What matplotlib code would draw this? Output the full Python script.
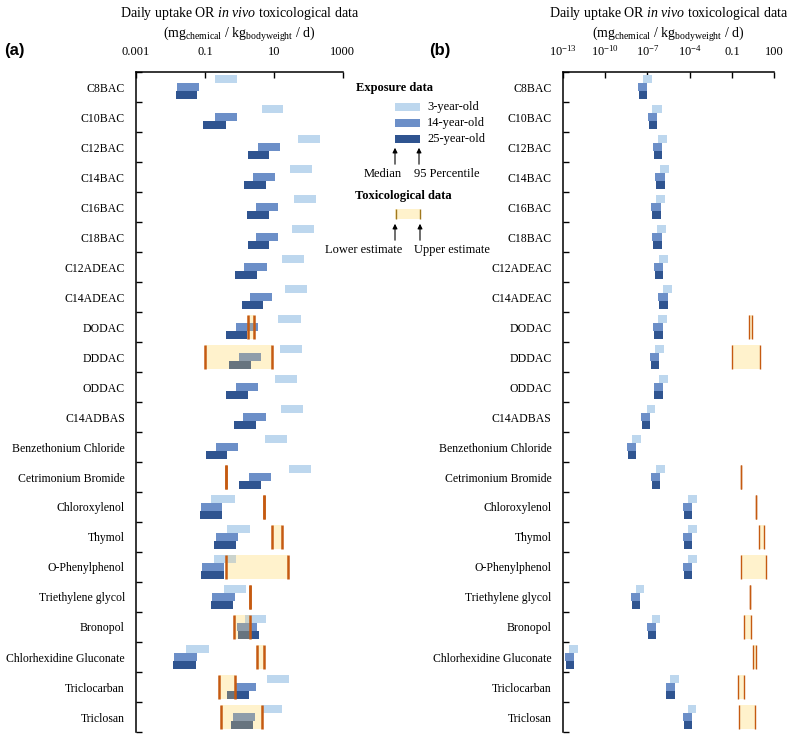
import numpy as np
import matplotlib
matplotlib.use("Agg")
import matplotlib.pyplot as plt

plt.rcParams['font.family'] = ['Liberation Serif', 'DejaVu Serif']
plt.rcParams['mathtext.fontset'] = 'custom'
plt.rcParams['mathtext.rm'] = 'Liberation Serif'
plt.rcParams['mathtext.it'] = 'Liberation Serif:italic'

chemicals = ["C8BAC", "C10BAC", "C12BAC", "C14BAC", "C16BAC", "C18BAC", "C12ADEAC",
             "C14ADEAC", "DODAC", "DDDAC", "ODDAC", "C14ADBAS", "Benzethonium Chloride",
             "Cetrimonium Bromide", "Chloroxylenol", "Thymol", "O-Phenylphenol",
             "Triethylene glycol", "Bronopol", "Chlorhexidine Gluconate", "Triclocarban",
             "Triclosan"]

# panel (a): median and 95 percentile daily uptake
a_med_3 = [0.19, 4.5, 51, 30, 39, 34, 17.4, 21.4, 13.2, 15.1, 11, 16.2, 5.5, 27.5,
           0.155, 0.43, 0.178, 0.35, 1.45, 0.029, 6.3, 4.5]
a_p95_3 = [0.83, 18.6, 224, 132, 170, 151, 76, 93, 63, 66, 48, 71, 24.5, 123,
           0.74, 2.0, 0.78, 1.55, 5.9, 0.129, 27.5, 17.4]
a_med_14 = [0.0158, 0.19, 3.47, 2.45, 3.0, 3.0, 1.35, 2.0, 0.79, 0.95, 0.79, 1.26, 0.204,
            1.86, 0.079, 0.204, 0.085, 0.166, 0.83, 0.0129, 0.78, 0.65]
a_p95_14 = [0.069, 0.83, 15.1, 11, 13.2, 13.2, 6.3, 8.9, 3.47, 4.3, 3.47, 5.9, 0.89,
            8.3, 0.32, 0.89, 0.37, 0.74, 3.24, 0.060, 3.0, 2.8]
a_med_25 = [0.0148, 0.091, 1.76, 1.35, 1.66, 1.76, 0.74, 1.17, 0.40, 0.49, 0.40, 0.69,
            0.105, 0.95, 0.074, 0.178, 0.079, 0.155, 0.89, 0.012, 0.43, 0.56]
a_p95_25 = [0.060, 0.40, 7.2, 5.9, 7.2, 7.2, 3.24, 4.8, 1.66, 2.14, 1.78, 3.0, 0.43,
            4.3, 0.31, 0.78, 0.35, 0.65, 3.7, 0.054, 1.86, 2.45]

# panel (b)
b_med_3 = [4.7e-8, 2.2e-7, 5.8e-7, 8.3e-7, 4.4e-7, 5.1e-7, 6.8e-7, 1.3e-6, 6.0e-7, 3.3e-7,
           6.5e-7, 9.1e-8, 8.1e-9, 4.2e-7, 7.8e-5, 7.8e-5, 7.8e-5, 1.5e-8, 2.0e-7, 3.0e-13,
           4.1e-6, 7.4e-5]
b_p95_3 = [2.0e-7, 1.05e-6, 2.4e-6, 3.5e-6, 1.9e-6, 2.1e-6, 3.0e-6, 5.6e-6, 2.6e-6, 1.45e-6,
           2.8e-6, 3.5e-7, 3.4e-8, 1.7e-6, 3.2e-4, 3.2e-4, 3.2e-4, 6.2e-8, 8.3e-7, 1.2e-12,
           1.7e-5, 2.8e-4]
b_med_14 = [2.2e-8, 1.1e-7, 2.5e-7, 3.7e-7, 1.9e-7, 2.2e-7, 3.0e-7, 6.0e-7, 2.7e-7, 1.55e-7,
            2.8e-7, 3.5e-8, 3.8e-9, 1.9e-7, 3.5e-5, 3.5e-5, 3.5e-5, 6.9e-9, 1.0e-7, 1.45e-13,
            2.0e-6, 3.4e-5]
b_p95_14 = [9.1e-8, 4.7e-7, 1.15e-6, 1.7e-6, 8.9e-7, 1.05e-6, 1.35e-6, 2.8e-6, 1.23e-6,
            6.5e-7, 1.23e-6, 1.55e-7, 1.6e-8, 8.3e-7, 1.5e-4, 1.5e-4, 1.5e-4, 3.0e-8, 4.4e-7,
            6.3e-13, 8.7e-6, 1.5e-4]
b_med_25 = [2.45e-8, 1.26e-7, 2.8e-7, 4.2e-7, 2.1e-7, 2.5e-7, 3.3e-7, 6.8e-7, 3.0e-7, 1.7e-7,
            3.2e-7, 4.0e-8, 4.3e-9, 2.1e-7, 4.0e-5, 4.0e-5, 4.0e-5, 7.8e-9, 1.1e-7, 1.6e-13,
            2.2e-6, 3.8e-5]
b_p95_25 = [9.5e-8, 4.9e-7, 1.15e-6, 1.7e-6, 8.9e-7, 1.05e-6, 1.35e-6, 2.8e-6, 1.23e-6,
            7.1e-7, 1.23e-6, 1.55e-7, 1.66e-8, 8.3e-7, 1.55e-4, 1.55e-4, 1.55e-4, 3.0e-8,
            4.4e-7, 6.3e-13, 8.7e-6, 1.5e-4]

# toxicological data (lower / upper estimate), None = no data
tox_low = [None, None, None, None, None, None, None, None, 1.74, 0.10, None, None, None,
           0.42, 5.2, 8.7, 0.42, 2.0, 0.71, 3.2, 0.25, 0.30]
tox_up = [None, None, None, None, None, None, None, None, 2.75, 9.1, None, None, None,
          0.42, 5.2, 17.8, 25, 2.0, 2.1, 5.2, 0.76, 4.5]

colors = ['#BDD7EE', '#6C8FC8', '#2F5490']
overlap_colors = ['#CBD3CC', '#8F9DAA', '#67747F']
offsets = [-0.27, 0, 0.27]
bar_h = 0.27
tox_fill = '#FFF2CC'
tox_line = '#C55A11'

W, H = 787, 734
fig = plt.figure(figsize=(W / 100, H / 100), dpi=100)

def px_rect(x0, x1, y0, y1):
    return [x0 / W, 1 - y1 / H, (x1 - x0) / W, (y1 - y0) / H]

def draw_panel(ax, meds, p95s, xlim, ticks, ticklabels, line_w):
    y = np.arange(len(chemicals))
    # toxicological boxes
    for i in range(len(chemicals)):
        if tox_low[i] is None:
            continue
        ax.barh(i, tox_up[i] - tox_low[i], left=tox_low[i], height=0.8,
                color=tox_fill, lw=0, zorder=1)
    for k in range(3):
        med = np.array(meds[k])
        p95 = np.array(p95s[k])
        ax.barh(y + offsets[k], p95 - med, left=med, height=bar_h,
                color=colors[k], lw=0, zorder=2)
        # part of the bar covered by the toxicological box
        for i in range(len(chemicals)):
            if tox_low[i] is None:
                continue
            lo = max(med[i], tox_low[i])
            hi = min(p95[i], tox_up[i])
            if hi > lo:
                ax.barh(i + offsets[k], hi - lo, left=lo, height=bar_h,
                        color=overlap_colors[k], lw=0, zorder=3)
    for i in range(len(chemicals)):
        if tox_low[i] is None:
            continue
        ax.vlines([tox_low[i], tox_up[i]], i - 0.4, i + 0.4, color=tox_line,
                  lw=line_w, zorder=4)

    ax.set_xscale('log')
    ax.set_xlim(*xlim)
    ax.set_ylim(len(chemicals) - 0.5, -0.5)
    ax.set_xticks(ticks)
    ax.set_xticklabels(ticklabels)
    ax.xaxis.set_minor_locator(matplotlib.ticker.NullLocator())
    ax.xaxis.tick_top()
    ax.tick_params(axis='x', direction='in', length=4, width=1, pad=10, labelsize=9)
    ax.set_yticks(y)
    ax.set_yticklabels(chemicals)
    ax.set_yticks(np.arange(-0.5, len(chemicals)), minor=True)
    ax.tick_params(axis='y', which='major', length=0, pad=8, labelsize=8.5)
    ax.tick_params(axis='y', which='minor', direction='in', length=4, width=1)
    for s in ['right', 'bottom']:
        ax.spines[s].set_visible(False)
    for s in ['top', 'left']:
        ax.spines[s].set_linewidth(1.1)
    ax.set_facecolor('none')

ax_a = fig.add_axes(px_rect(136, 342.7, 72, 732))
draw_panel(ax_a, [a_med_3, a_med_14, a_med_25], [a_p95_3, a_p95_14, a_p95_25],
           (1e-3, 1e3), [1e-3, 1e-1, 1e1, 1e3], ["0.001", "0.1", "10", "1000"], 1.8)

ax_b = fig.add_axes(px_rect(562.7, 774.3, 72, 732))
draw_panel(ax_b, [b_med_3, b_med_14, b_med_25], [b_p95_3, b_p95_14, b_p95_25],
           (1e-13, 1e2), [1e-13, 1e-10, 1e-7, 1e-4, 1e-1, 1e2],
           ["$10^{-13}$", "$10^{-10}$", "$10^{-7}$", "$10^{-4}$", "0.1", "100"], 1.0)

title1 = "Daily uptake OR $\\mathit{in\\ vivo}$ toxicological data"
title2 = "(mg$_{\\mathrm{chemical}}$ / kg$_{\\mathrm{bodyweight}}$ / d)"
for cx in [(136 + 342.7) / 2, (562.7 + 774.3) / 2]:
    fig.text(cx / W, 1 - 14 / H, title1, ha='center', va='center', fontsize=10)
    fig.text(cx / W, 1 - 35 / H, title2, ha='center', va='center', fontsize=10)

fig.text(14 / W, 1 - 51 / H, "(a)", ha='center', va='center', fontsize=12,
         fontweight='bold', family='Liberation Sans')
fig.text(440 / W, 1 - 51 / H, "(b)", ha='center', va='center', fontsize=12,
         fontweight='bold', family='Liberation Sans')

# legend drawn in figure pixel space
lg = fig.add_axes([0, 0, 1, 1])
lg.set_xlim(0, W)
lg.set_ylim(H, 0)
lg.axis('off')
lg.patch.set_alpha(0)

lg.text(394, 88, "Exposure data", ha='center', va='center', fontsize=9, fontweight='bold')
for k, (lab, yc) in enumerate(zip(["3-year-old", "14-year-old", "25-year-old"], [107, 123, 139])):
    lg.add_patch(plt.Rectangle((395, yc - 4), 25, 8, color=colors[k], lw=0))
    lg.text(427, yc, lab, ha='left', va='center', fontsize=9)
arrow = dict(arrowstyle='-|>', color='black', lw=0.8, mutation_scale=7)
for x in [395, 419]:
    lg.annotate("", xy=(x, 145), xytext=(x, 167), arrowprops=arrow)
lg.text(383, 174, "Median", ha='center', va='center', fontsize=9)
lg.text(447, 174, "95 Percentile", ha='center', va='center', fontsize=9)

lg.text(403, 196, "Toxicological data", ha='center', va='center', fontsize=9,
        fontweight='bold')
lg.add_patch(plt.Rectangle((395, 209), 25, 10, color=tox_fill, lw=0))
lg.vlines([395.5, 419.5], 209, 219, color='#A0781E', lw=1)
for x in [395, 420]:
    lg.annotate("", xy=(x, 221), xytext=(x, 243), arrowprops=arrow)
lg.text(364, 250, "Lower estimate", ha='center', va='center', fontsize=9)
lg.text(452, 250, "Upper estimate", ha='center', va='center', fontsize=9)

fig.savefig("out.png", dpi=100)
